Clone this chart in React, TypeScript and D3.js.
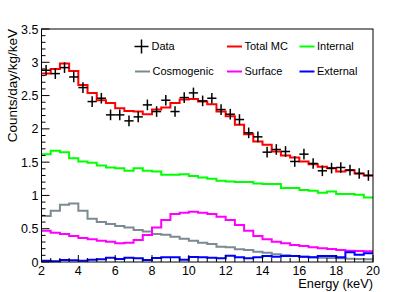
import * as d3 from "d3";

// ---- data (0.5 keV bins from 2 to 20 keV) ----
const binEdges = d3.range(2, 20.001, 0.5);
const dataVals = [2.88, 2.83, 2.92, 2.78, 2.62, 2.41, 2.46, 2.21, 2.21, 2.12, 2.18, 2.36, 2.26, 2.43, 2.26, 2.47, 2.54, 2.42, 2.46, 2.29, 2.22, 2.14, 1.94, 1.88, 1.65, 1.69, 1.66, 1.51, 1.62, 1.48, 1.37, 1.41, 1.42, 1.38, 1.33, 1.30];
const dataErr = 0.08;
const totalMC = [2.83, 2.90, 2.98, 2.87, 2.66, 2.54, 2.43, 2.39, 2.31, 2.27, 2.26, 2.22, 2.29, 2.32, 2.39, 2.44, 2.45, 2.41, 2.37, 2.26, 2.19, 2.06, 1.92, 1.81, 1.76, 1.66, 1.60, 1.57, 1.51, 1.47, 1.43, 1.41, 1.36, 1.38, 1.33, 1.30];
const internal = [1.62, 1.67, 1.65, 1.56, 1.51, 1.49, 1.45, 1.42, 1.41, 1.37, 1.41, 1.37, 1.36, 1.31, 1.31, 1.32, 1.29, 1.27, 1.25, 1.22, 1.21, 1.20, 1.20, 1.18, 1.17, 1.17, 1.11, 1.11, 1.08, 1.07, 1.04, 1.06, 1.02, 1.02, 1.01, 0.97];
const cosmogenic = [0.69, 0.77, 0.86, 0.88, 0.77, 0.65, 0.60, 0.57, 0.54, 0.52, 0.48, 0.46, 0.42, 0.41, 0.38, 0.35, 0.32, 0.29, 0.27, 0.23, 0.22, 0.19, 0.18, 0.155, 0.14, 0.115, 0.10, 0.09, 0.08, 0.07, 0.065, 0.06, 0.055, 0.05, 0.045, 0.04];
const surface = [0.47, 0.44, 0.42, 0.39, 0.36, 0.34, 0.32, 0.305, 0.28, 0.29, 0.33, 0.405, 0.52, 0.63, 0.72, 0.74, 0.755, 0.74, 0.72, 0.68, 0.63, 0.555, 0.47, 0.39, 0.34, 0.305, 0.28, 0.255, 0.24, 0.22, 0.205, 0.195, 0.18, 0.17, 0.165, 0.16];
const external = [0.02, 0.01, 0.03, 0.025, 0.02, 0.035, 0.04, 0.065, 0.045, 0.065, 0.055, 0.03, 0.06, 0.07, 0.07, 0.035, 0.075, 0.07, 0.065, 0.055, 0.095, 0.07, 0.055, 0.07, 0.09, 0.08, 0.09, 0.09, 0.08, 0.07, 0.09, 0.09, 0.07, 0.145, 0.11, 0.13];

const xTicks = [2, 4, 6, 8, 10, 12, 14, 16, 18, 20];
const yTicks = [0, 0.5, 1, 1.5, 2, 2.5, 3, 3.5];

const series = [
  { name: "Cosmogenic", values: cosmogenic, color: "#7b8b93" },
  { name: "Surface", values: surface, color: "#ff00ff" },
  { name: "External", values: external, color: "#0000ff" },
  { name: "Internal", values: internal, color: "#00ff00" },
  { name: "Total MC", values: totalMC, color: "#ff0000" },
];

const width = 415;
const height = 292;
const left = 41.5, right = 373, top = 29, bottom = 262;
const font = "'Liberation Sans', Arial, Helvetica, sans-serif";

export default function App() {
  const x = d3.scaleLinear().domain([2, 20]).range([left, right]);
  const y = d3.scaleLinear().domain([0, 3.5]).range([bottom, top]);

  // step histogram path: flat across each bin, vertical at edges
  const stepPath = (vals: number[]) => {
    const pts: [number, number][] = [];
    vals.forEach((v, i) => {
      pts.push([x(binEdges[i]), y(v)]);
      pts.push([x(binEdges[i + 1]), y(v)]);
    });
    return d3.line()(pts) || "";
  };

  const xMinor = d3.range(2, 20.001, 0.5);
  const yMinor = d3.range(0, 3.5001, 0.1);

  const legendRows = [
    [
      { kind: "data", label: "Data", x: 141.5 },
      { kind: "line", label: "Total MC", x: 234.5, color: "#ff0000" },
      { kind: "line", label: "Internal", x: 307, color: "#00ff00" },
    ],
    [
      { kind: "line", label: "Cosmogenic", x: 142.5, color: "#7b8b93" },
      { kind: "line", label: "Surface", x: 234.5, color: "#ff00ff" },
      { kind: "line", label: "External", x: 307, color: "#0000ff" },
    ],
  ];
  const legendY = [46.5, 71.5];

  return (
    <svg
      width={width}
      height={height}
      style={{ position: "absolute", left: 0, top: 0, background: "#fff", fontFamily: font }}
    >
      <rect width={width} height={height} fill="#fff" />

      {/* histograms */}
      {series.map((s) => (
        <path key={s.name} d={stepPath(s.values)} fill="none" stroke={s.color} strokeWidth={2} />
      ))}

      {/* data points with error bars */}
      <g stroke="#000" strokeWidth={1.5}>
        {dataVals.map((v, i) => {
          const cx = x((binEdges[i] + binEdges[i + 1]) / 2);
          return (
            <g key={i}>
              <line x1={x(binEdges[i])} x2={x(binEdges[i + 1])} y1={y(v)} y2={y(v)} />
              <line x1={cx} x2={cx} y1={y(v - dataErr)} y2={y(v + dataErr)} />
            </g>
          );
        })}
      </g>

      {/* frame */}
      <rect x={left} y={top} width={right - left} height={bottom - top} fill="none" stroke="#000" strokeWidth={1} />

      {/* ticks */}
      <g stroke="#000" strokeWidth={1}>
        {yMinor.map((t, i) => (
          <line key={i} x1={left} x2={left + (i % 5 === 0 ? 8 : 4)} y1={y(t)} y2={y(t)} />
        ))}
        {xMinor.map((t, i) => (
          <line key={i} x1={x(t)} x2={x(t)} y1={bottom} y2={bottom - (i % 4 === 0 ? 7 : 4)} />
        ))}
      </g>

      {/* tick labels */}
      <g fontSize={12.5} fill="#000">
        {yTicks.map((t) => (
          <text key={t} x={left - 3} y={y(t)} dy="0.36em" textAnchor="end">
            {d3.format("~g")(t)}
          </text>
        ))}
        {xTicks.map((t) => (
          <text key={t} x={x(t)} y={274.5} textAnchor="middle">
            {t}
          </text>
        ))}
      </g>

      {/* axis titles */}
      <text x={right} y={288} textAnchor="end" fontSize={12.8}>Energy (keV)</text>
      <text
        transform={`translate(16.5,${top}) rotate(-90)`}
        textAnchor="end"
        fontSize={13.5}
      >
        Counts/day/kg/keV
      </text>

      {/* legend */}
      {legendRows.map((row, r) =>
        row.map((e) => (
          <g key={e.label} transform={`translate(${e.x},${legendY[r]})`}>
            {e.kind === "data" ? (
              <g stroke="#000" strokeWidth={1.5}>
                <line x1={-7} x2={7} y1={0} y2={0} />
                <line x1={0} x2={0} y1={-7} y2={7} />
              </g>
            ) : (
              <line x1={-7.5} x2={7.5} y1={0} y2={0} stroke={e.color} strokeWidth={2} />
            )}
            <text x={10} dy="0.36em" fontSize={11}>{e.label}</text>
          </g>
        ))
      )}
    </svg>
  );
}
